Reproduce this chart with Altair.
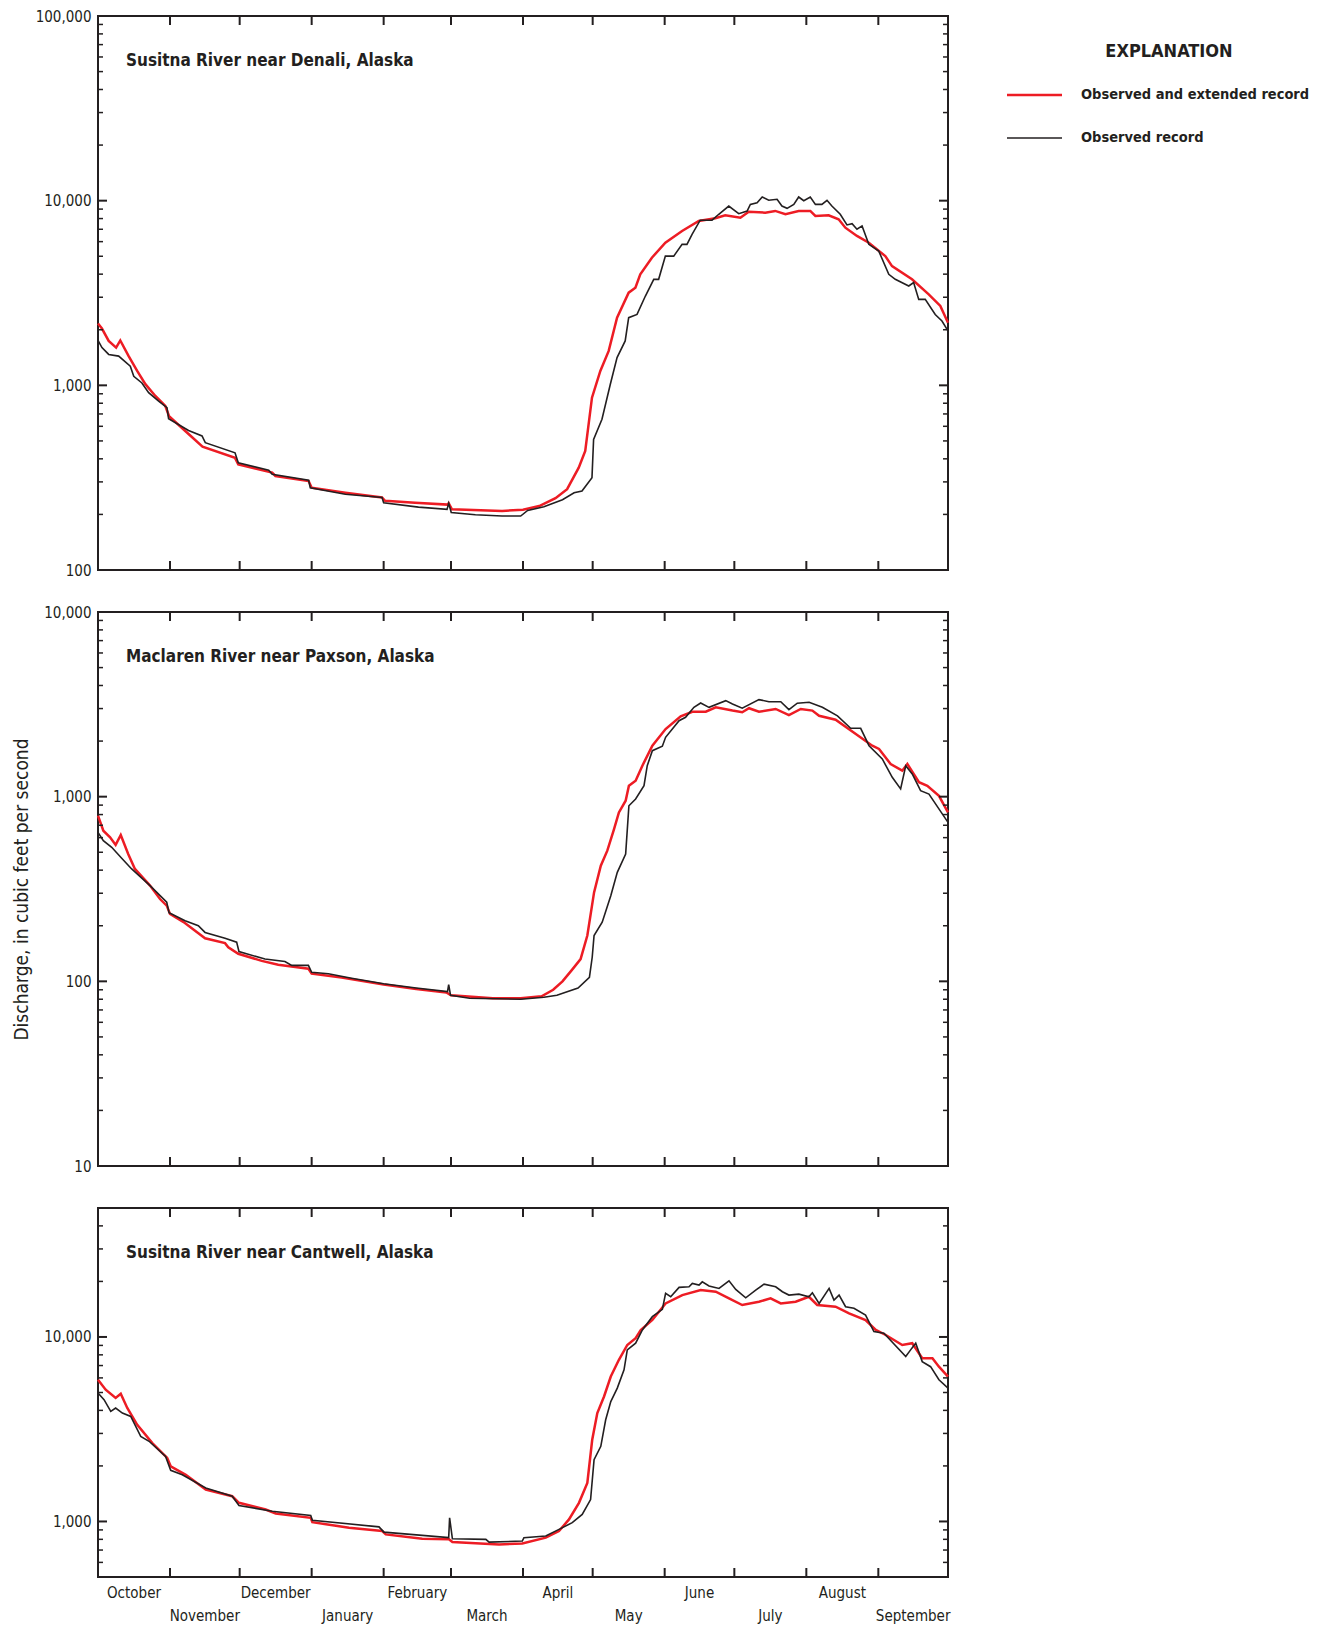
import altair as alt
import pandas as pd

# ---------------- categories / labels ----------------
MONTHS = ["October", "November", "December", "January", "February", "March",
          "April", "May", "June", "July", "August", "September"]
MONTH_DAYS = [31, 30, 31, 31, 29, 31, 30, 31, 30, 31, 31, 30]

TITLES = ["Susitna River near Denali, Alaska",
          "Maclaren River near Paxson, Alaska",
          "Susitna River near Cantwell, Alaska"]
Y_TITLE = "Discharge, in cubic feet per second"
LEGEND_TITLE = "EXPLANATION"
SERIES_NAMES = ["Observed and extended record", "Observed record"]

# ---------------- Susitna River near Denali ----------------
denali_ext_day = [0, 1.7, 4.6, 7.8, 9.6, 13.2, 16.8, 20.4, 24.7, 29, 30.6, 39, 45, 59, 60.4,
                  75, 76.4, 90.7, 92, 106.5, 122.3, 123.6, 136.5, 150.5, 151, 152.4, 174,
                  183, 190, 197, 202, 207, 209.8, 212.7, 216.3, 219.9, 223.5, 228.5, 231.4,
                  233.5, 238.5, 244.3, 251.5, 258.7, 265.8, 270.1, 276.6, 280.2, 287.3,
                  291.6, 296, 301.7, 306.7, 308.9, 314.6, 318.9, 321.8, 326.8, 331.9, 339,
                  341.9, 350.5, 357.7, 362.7, 366]
denali_ext_q = [2160, 2030, 1740, 1600, 1750, 1440, 1200, 1015, 876, 773, 680, 545, 465, 405, 373,
                337, 323, 303, 279, 262, 247, 237, 231, 226, 230, 213, 209,
                212, 222, 245, 274, 358, 441, 857, 1197, 1536, 2324, 3175, 3380,
                3990, 4910, 5920, 6850, 7760, 8030, 8340, 8090, 8720, 8610,
                8800, 8440, 8800, 8800, 8260, 8330, 7930, 7140, 6440, 5920, 5010,
                4420, 3750, 3110, 2690, 2185]
denali_obs_day = [0, 1.7, 4.6, 8.9, 13.9, 15.4, 18.9, 21.8, 26.1, 29.7, 30.4, 39, 44.8, 46.2,
                  59, 60.4, 73.5, 75, 90.7, 91.4, 106.5, 122.3, 123, 138, 150.3, 151, 152.1,
                  162.5, 174, 182, 185, 192, 200, 205, 208.4, 212.7, 213.4, 217, 220.6,
                  223.5, 227, 228.5, 232.1, 235.7, 239.3, 241.4, 244.3, 247.9, 251.5,
                  253.6, 255.8, 259.3, 264.4, 267.3, 271.6, 275.9, 279.5, 280.9, 283.8,
                  286, 288.8, 292.4, 294.5, 296.7, 299.6, 301.7, 303.9, 306.7, 308.9,
                  311.7, 313.9, 316, 319.6, 322.5, 324.7, 326.8, 329, 331.9, 336.2, 340.5,
                  343.3, 349.1, 351.2, 353.4, 356.2, 360.5, 363.4, 366]
denali_obs_q = [1750, 1600, 1470, 1440, 1270, 1120, 1030, 912, 822, 757, 660, 570, 532, 489,
                431, 381, 347, 330, 306, 279, 257, 247, 231, 219, 213, 230, 205,
                199, 196, 196, 210, 220, 240, 262, 268, 316, 510, 655, 1014,
                1414, 1740, 2325, 2420, 3045, 3750, 3750, 5010, 5010, 5800,
                5800, 6570, 7840, 7840, 8440, 9350, 8500, 8790, 9550, 9750,
                10470, 10050, 10170, 9350, 9090, 9550, 10470, 9990, 10470, 9550,
                9550, 10050, 9350, 8440, 7390, 7500, 7000, 7300, 5800, 5330, 3990,
                3750, 3450, 3600, 2920, 2920, 2420, 2230, 1970]

# ---------------- Maclaren River near Paxson ----------------
maclaren_ext_day = [0, 2.3, 5.2, 7.6, 9.8, 13, 15.9, 22.4, 26.7, 29.6, 31, 36.7, 41.8, 46.1,
                    54.7, 56.1, 60.4, 70.5, 77.6, 90.6, 92, 104.9, 123, 137, 150, 152, 170,
                    182, 191, 196, 200, 204, 207.8, 210.7, 213.6, 216.5, 219.3, 222.2,
                    224.3, 227.2, 228.6, 231.5, 234.4, 238.7, 244.4, 250.9, 255.9, 261.7,
                    266, 273.2, 277.4, 280.3, 284.6, 291.8, 297.5, 302.6, 307.6, 310.5,
                    317.6, 326.3, 333.4, 336.3, 341.3, 346.3, 348.5, 353.5, 357.1, 362.1,
                    366]
maclaren_ext_q = [789, 654, 603, 548, 620, 489, 406, 330, 279, 257, 232, 210, 188, 171,
                  161, 153, 141, 129, 123, 117, 110, 105, 96, 91, 87, 84, 81,
                  81, 83, 90, 100, 115, 132, 177, 303, 423, 510, 668,
                  822, 951, 1146, 1219, 1471, 1890, 2324, 2722, 2883, 2883,
                  3046, 2925, 2866, 3012, 2883, 2986, 2768, 2986, 2925, 2740,
                  2611, 2182, 1889, 1812, 1503, 1383, 1503, 1197, 1146, 1011,
                  822]
maclaren_obs_day = [0, 2.3, 5.9, 10.2, 14.5, 22.4, 29.6, 30.6, 37.5, 43.2, 46.1, 54.7, 59.7,
                    60.7, 71.9, 80.5, 83.4, 90.6, 92, 99.2, 109.2, 123, 137, 150.5, 151,
                    151.8, 160, 182, 192, 197.6, 206.7, 211.6, 212.8, 213.6, 217.1, 220.8,
                    223.6, 227.2, 228.6, 231.5, 235.1, 236.5, 238.7, 243, 244.4, 250.2,
                    253, 256.6, 259.5, 263.1, 270.3, 273.2, 277.4, 284.6, 288.9, 294,
                    297.5, 301.1, 306.2, 311.9, 318.4, 324.1, 328.4, 332, 337.7, 342,
                    345.6, 347.8, 350.6, 354.2, 357.8, 366]
maclaren_obs_q = [641, 578, 532, 464, 406, 330, 268, 235, 213, 200, 184, 171, 163,
                  145, 132, 128, 122, 122, 112, 110, 104, 97, 92, 88, 96,
                  84, 81, 80, 82, 84, 92, 105, 135, 177, 209, 291,
                  389, 489, 893, 971, 1146, 1471, 1775, 1875, 2096, 2577,
                  2690, 3046, 3215, 3046, 3311, 3178, 3012, 3353, 3268, 3268,
                  2958, 3206, 3246, 3046, 2740, 2345, 2345, 1888, 1600, 1273,
                  1102, 1471, 1327, 1077, 1033, 726]

# ---------------- Susitna River near Cantwell ----------------
cantwell_ext_day = [0, 3.3, 7.6, 9.8, 12.6, 16.9, 23.4, 29.8, 31.3, 37.8, 46.4, 57.8, 60.7,
                    72.2, 76.5, 91.6, 92.3, 108.1, 122.4, 123.9, 139.6, 151.1, 152.6, 172.7,
                    182.7, 192.8, 198.5, 202.8, 207.1, 210.7, 212.8, 215, 217.9, 220.8,
                    224.3, 227.9, 231.5, 233.7, 238.7, 244.4, 251.6, 259.5, 266, 271.7,
                    277.4, 284.6, 289.6, 294, 300.4, 306.1, 309.7, 317.6, 323.4, 330.5,
                    334.9, 339.2, 346.3, 350.6, 354.9, 359.3, 362.1, 366]
cantwell_ext_q = [5865, 5180, 4670, 4920, 4120, 3340, 2660, 2210, 1990, 1790, 1490, 1370, 1262,
                  1161, 1105, 1047, 991, 925, 887, 851, 806, 800, 773, 751,
                  760, 817, 887, 1026, 1262, 1618, 2773, 3870, 4760, 6100,
                  7520, 9050, 9840, 10910, 12360, 15200, 16870, 17950, 17580, 16180,
                  14900, 15520, 16180, 15200, 15520, 16520, 14900, 14580, 13430, 12360,
                  10910, 10250, 9050, 9250, 7670, 7670, 6900, 6100]
cantwell_obs_day = [0, 2.6, 5.5, 7.6, 10.5, 14.1, 18.4, 22, 29.1, 31.3, 36.3, 46.4, 57.8, 60.7,
                    75, 91.6, 92.3, 121, 123.1, 151, 151.4, 152.6, 167, 168.4, 182.7, 183.4,
                    192.8, 198.5, 204.2, 208.5, 212.1, 213.6, 216.5, 218.6, 220.8, 223.6,
                    226.5, 227.9, 231.5, 234.4, 238.7, 243, 244.4, 246.6, 250.2, 254.5,
                    255.9, 258.8, 260.2, 263.1, 267.4, 271.7, 274.6, 278.9, 283.2, 286.8,
                    291.8, 294.7, 297.5, 301.8, 306.1, 307.6, 310.5, 314.8, 316.9, 319.1,
                    321.9, 325.5, 330.5, 334.1, 338.4, 347.8, 349.9, 352.1, 354.9, 358.5,
                    362.1, 366]
cantwell_obs_q = [4970, 4570, 3950, 4120, 3870, 3710, 2890, 2720, 2250, 1893, 1790, 1520, 1370, 1220,
                  1137, 1077, 1016, 935, 875, 817, 1047, 806, 800, 773, 783, 817,
                  834, 906, 985, 1091, 1315, 2164, 2553, 3557, 4466, 5280,
                  6640, 8510, 9250, 10910, 12880, 14120, 17230, 16520, 18570, 18700,
                  19500, 19100, 19900, 18900, 18330, 20150, 18100, 16310, 17950, 19330,
                  18700, 17580, 16870, 17070, 16520, 17370, 15200, 18330, 15850, 16870,
                  14580, 14300, 13150, 10690, 10470, 7830, 8510, 9250, 7350, 6900,
                  5860, 5280]

# ---------------- style ----------------
FONT = "DejaVu Sans Condensed, Liberation Sans Narrow, Arial Narrow, sans-serif"
INK = "#231f20"
RED = "#ed1c24"
W = 850
H_BIG = 554
H_SMALL = 369

# month boundaries and centers (in day of water year)
starts = [0]
for n in MONTH_DAYS:
    starts.append(starts[-1] + n)
TOTAL = starts[-1]
month_df = pd.DataFrame({
    "name": MONTHS,
    "center": [starts[i] + MONTH_DAYS[i] / 2 for i in range(12)],
    "row": [i % 2 for i in range(12)],
})
bounds_df = pd.DataFrame({"day": starts[1:-1]})
one = pd.DataFrame({"k": [0]})


def log_ticks(lo, hi):
    major, minor = [], []
    d = 1
    while d <= hi:
        for m in range(1, 10):
            v = m * d
            if lo < v < hi:
                (major if m == 1 else minor).append(v)
        d *= 10
    return major, minor


def panel(title, ext_d, ext_q, obs_d, obs_q, ymin, ymax, height,
          ytitle=None, months=False, legend=False):
    xs = alt.Scale(domain=[0, TOTAL], nice=False, zero=False)
    ys = alt.Scale(type="log", domain=[ymin, ymax], nice=False)
    major, minor = log_ticks(ymin, ymax)
    labels = [v for v in [10, 100, 1000, 10000, 100000] if ymin <= v <= ymax]
    axis_kw = dict(values=labels, format=",", ticks=False, domain=False, grid=False,
                   labelFont=FONT, labelFontSize=15, labelColor=INK, labelPadding=7)
    if ytitle:
        yaxis = alt.Axis(title=ytitle, titleFont=FONT, titleFontSize=19,
                         titleFontWeight="normal", titleColor=INK, titlePadding=12,
                         **axis_kw)
    else:
        yaxis = alt.Axis(title=None, **axis_kw)

    X = alt.X("day:Q", scale=xs, axis=None)

    ext = alt.Chart(pd.DataFrame({"day": ext_d, "q": ext_q})).mark_line(
        color=RED, strokeWidth=2.5).encode(x=X, y=alt.Y("q:Q", scale=ys, axis=yaxis))
    obs = alt.Chart(pd.DataFrame({"day": obs_d, "q": obs_q})).mark_line(
        color=INK, strokeWidth=1.6).encode(x=X, y=alt.Y("q:Q", scale=ys, axis=yaxis))

    layers = [ext, obs]

    # inward month ticks, top and bottom
    for y0, y1 in [(0, 9), (height - 9, height)]:
        layers.append(alt.Chart(bounds_df).mark_rule(color=INK, strokeWidth=2).encode(
            x=X, y=alt.value(y0), y2=alt.value(y1)))

    # inward log ticks, left and right
    for vals, ln, sw in [(major, 9, 2), (minor, 5, 1.5)]:
        if not vals:
            continue
        tdf = pd.DataFrame({"v": vals})
        for x0, x1 in [(0, ln), (W - ln, W)]:
            layers.append(alt.Chart(tdf).mark_rule(color=INK, strokeWidth=sw).encode(
                y=alt.Y("v:Q", scale=ys, axis=yaxis), x=alt.value(x0), x2=alt.value(x1)))

    # panel title
    layers.append(alt.Chart(one).mark_text(
        text=title, align="left", baseline="alphabetic", font=FONT, fontSize=17,
        fontWeight="bold", color=INK).encode(x=alt.value(28), y=alt.value(50)))

    if months:
        for r, yy in [(0, height + 21), (1, height + 44)]:
            layers.append(alt.Chart(month_df[month_df["row"] == r]).mark_text(
                align="center", baseline="alphabetic", font=FONT, fontSize=15,
                color=INK).encode(x=alt.X("center:Q", scale=xs, axis=None),
                                  y=alt.value(yy), text="name:N"))

    if legend:
        layers.append(alt.Chart(one).mark_text(
            text=LEGEND_TITLE, align="center", baseline="alphabetic", font=FONT,
            fontSize=18, fontWeight="bold", color=INK).encode(
            x=alt.value(1071), y=alt.value(41)))
        for name, col, sw, yy in [(SERIES_NAMES[0], RED, 2.5, 79),
                                  (SERIES_NAMES[1], INK, 1.6, 122)]:
            layers.append(alt.Chart(one).mark_rule(color=col, strokeWidth=sw).encode(
                x=alt.value(909), x2=alt.value(964), y=alt.value(yy)))
            layers.append(alt.Chart(one).mark_text(
                text=name, align="left", baseline="middle", font=FONT, fontSize=14.5,
                fontWeight="bold", color=INK).encode(x=alt.value(983), y=alt.value(yy)))

    return alt.layer(*layers).properties(width=W, height=height)


p1 = panel(TITLES[0], denali_ext_day, denali_ext_q, denali_obs_day, denali_obs_q,
           100, 100000, H_BIG, legend=True)
p2 = panel(TITLES[1], maclaren_ext_day, maclaren_ext_q, maclaren_obs_day, maclaren_obs_q,
           10, 10000, H_BIG, ytitle=Y_TITLE)
p3 = panel(TITLES[2], cantwell_ext_day, cantwell_ext_q, cantwell_obs_day, cantwell_obs_q,
           500, 50000, H_SMALL, months=True)

chart = alt.vconcat(p1, p2, p3, spacing=42, bounds="flush").properties(
    padding={"left": 3, "top": 0, "right": 0, "bottom": 0},
    background="white",
).configure_view(stroke=INK, strokeWidth=2)

chart.save("out.html", embed_options={"renderer": "svg", "actions": False})
